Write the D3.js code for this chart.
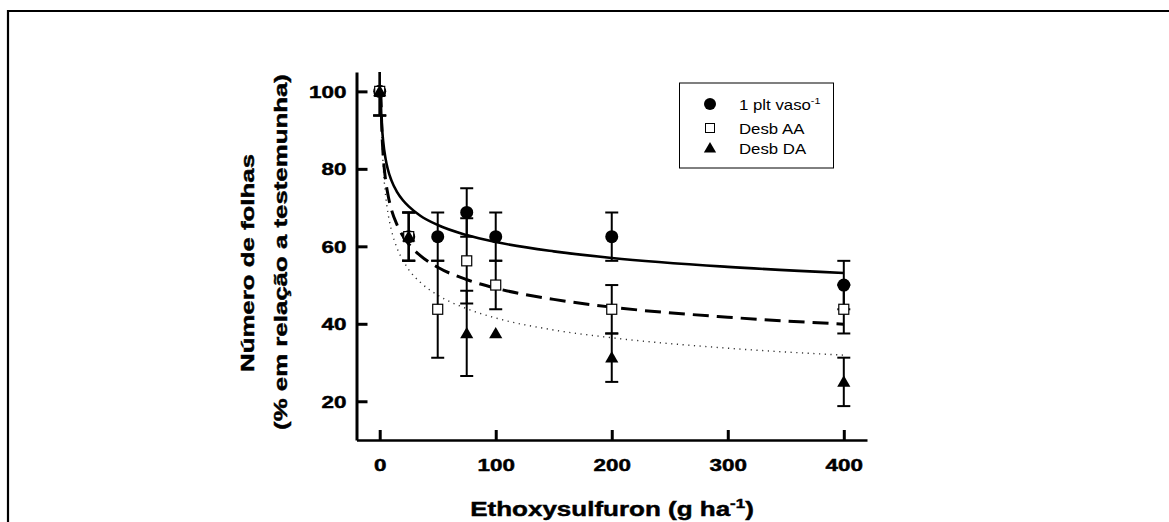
<!DOCTYPE html>
<html><head><meta charset="utf-8">
<script src="https://cdn.jsdelivr.net/npm/d3@7"></script>
<style>
html,body{margin:0;padding:0;background:#fff;}
svg{display:block;font-family:"Liberation Sans",Arial,sans-serif;}
</style></head>
<body>
<svg id="chart" width="1169" height="522"></svg>
<script>
// ---- data ----
const doses = [0, 25, 50, 75, 100, 200, 400];
const pltValues = [100, 62.5, 62.5, 68.75, 62.5, 62.5, 50];
const pltErrors = [6.25, 6.25, 6.25, 6.25, 6.25, 6.25, 6.25];
const aaValues = [100, 62.5, 43.75, 56.25, 50, 43.75, 43.75];
const aaErrors = [6.25, 6.25, 12.5, 11, 6.25, 6.25, 6.25];
const daValues = [100, 62.5, null, 37.5, 37.5, 31.25, 25];
const daErrors = [6.25, 6.25, null, 11, 0, 6.25, 6.25];

const curveDoses = [0.8, 1, 2, 3, 5, 7, 10, 15, 20, 25, 35, 50, 75, 100, 150, 200, 300, 400];
const pltCurve = [100, 97.3, 90.7, 87.1, 82.7, 79.9, 77.1, 74.0, 71.9, 70.3, 67.9, 65.5, 62.9, 61.1, 58.7, 57.0, 54.7, 53.1];
const aaCurve = [100, 98.6, 88.8, 83.5, 77.3, 73.5, 69.6, 65.5, 62.7, 60.6, 57.6, 54.6, 51.4, 49.2, 46.3, 44.3, 41.7, 39.9];
const daCurve = [100, 99.6, 87.3, 80.8, 73.4, 68.8, 64.3, 59.5, 56.4, 54.0, 50.7, 47.4, 43.9, 41.5, 38.4, 36.4, 33.7, 31.9];

const xTicks = [0, 100, 200, 300, 400];
const yTicks = [20, 40, 60, 80, 100];
const seriesNames = ["1 plt vaso", "Desb AA", "Desb DA"];
const xTitle = "Ethoxysulfuron (g ha";
const yTitle1 = "Número de folhas";
const yTitle2 = "(% em relação a testemunha)";

// ---- drawing ----
const svg = d3.select("#chart");
const x = d3.scaleLinear().domain([-20, 420]).range([356.5, 867]);
const y = d3.scaleLinear().domain([10, 105]).range([440, 72]);

// outer frame
svg.append("path").attr("d", "M8,522 L8,11 L1169,11")
  .attr("fill", "none").attr("stroke", "#000").attr("stroke-width", 2.2);

svg.append("defs").append("clipPath").attr("id", "plotclip")
  .append("rect").attr("x", 356.5).attr("y", 72).attr("width", 510.5).attr("height", 368);

const SX = 1.32;
const BOLD_STROKE = 0.45;

// axes
const gx = svg.append("g").attr("transform", "translate(0,440)")
  .call(d3.axisBottom(x).tickValues(xTicks).tickSize(-10).tickSizeOuter(0).tickFormat(d3.format("d")));
gx.select(".domain").attr("stroke-width", 2.6);
gx.selectAll(".tick line").attr("stroke-width", 3);
gx.selectAll(".tick text").attr("y", 0).attr("dy", 0)
  .attr("transform", "translate(0,31) scale(" + SX + ",1)")
  .attr("font-size", 17).attr("font-weight", "bold").attr("fill", "#000")
  .attr("stroke", "#000").attr("stroke-width", BOLD_STROKE)
  .attr("font-family", "Liberation Sans, Arial, sans-serif");

const gy = svg.append("g").attr("transform", "translate(356.5,0)")
  .call(d3.axisLeft(y).tickValues(yTicks).tickSize(-11).tickSizeOuter(0).tickFormat(d3.format("d")));
gy.select(".domain").attr("stroke-width", 3);
gy.selectAll(".tick line").attr("stroke-width", 3);
gy.selectAll(".tick text").attr("x", 0).attr("dy", "0.36em")
  .attr("transform", "translate(-10,0) scale(" + SX + ",1)")
  .attr("font-size", 17).attr("font-weight", "bold").attr("fill", "#000")
  .attr("stroke", "#000").attr("stroke-width", BOLD_STROKE)
  .attr("font-family", "Liberation Sans, Arial, sans-serif");

// axis titles
const xt = svg.append("text")
  .attr("transform", "translate(612,516) scale(1.3,1)")
  .attr("text-anchor", "middle").attr("font-size", 20).attr("font-weight", "bold")
  .attr("stroke", "#000").attr("stroke-width", BOLD_STROKE);
xt.append("tspan").text(xTitle);
xt.append("tspan").attr("font-size", 13).attr("dy", -8).text("-1");
xt.append("tspan").attr("dy", 8).text(")");

svg.append("text")
  .attr("transform", "translate(253.5,263) rotate(-90) scale(1.36,1)")
  .attr("text-anchor", "middle").attr("font-size", 19).attr("font-weight", "bold")
  .attr("stroke", "#000").attr("stroke-width", BOLD_STROKE)
  .text(yTitle1);
svg.append("text")
  .attr("transform", "translate(287,252) rotate(-90) scale(1.36,1)")
  .attr("text-anchor", "middle").attr("font-size", 19).attr("font-weight", "bold")
  .attr("stroke", "#000").attr("stroke-width", BOLD_STROKE)
  .text(yTitle2);

// curves
const plot = svg.append("g").attr("clip-path", "url(#plotclip)");
const line = d3.line().x((d) => x(d[0])).y((d) => y(d[1])).curve(d3.curveMonotoneX);
function curvePts(vals) { return curveDoses.map((d, i) => [d, vals[i]]); }

plot.append("path").datum(curvePts(daCurve)).attr("d", line)
  .attr("fill", "none").attr("stroke", "#333").attr("stroke-width", 1.4).attr("stroke-dasharray", "1.2,4.5");
plot.append("path").datum(curvePts(aaCurve)).attr("d", line)
  .attr("fill", "none").attr("stroke", "#000").attr("stroke-width", 3).attr("stroke-dasharray", "16,8");
plot.append("path").datum(curvePts(pltCurve)).attr("d", line)
  .attr("fill", "none").attr("stroke", "#000").attr("stroke-width", 2.6);

// error bars
function errBars(vals, errs) {
  const pts = doses.map((d, i) => ({ d, v: vals[i], e: errs[i] })).filter((p) => p.v != null && p.e);
  const g = plot.append("g").attr("stroke", "#000").attr("stroke-width", 2).attr("fill", "none");
  pts.forEach((p) => {
    const cx = x(p.d), y1 = y(p.v + p.e), y2 = y(p.v - p.e);
    g.append("line").attr("x1", cx).attr("x2", cx).attr("y1", y1).attr("y2", y2);
    g.append("line").attr("x1", cx - 6.5).attr("x2", cx + 6.5).attr("y1", y1).attr("y2", y1);
    g.append("line").attr("x1", cx - 6.5).attr("x2", cx + 6.5).attr("y1", y2).attr("y2", y2);
  });
}
errBars(pltValues, pltErrors);
errBars(aaValues, aaErrors);
errBars(daValues, daErrors);

const circleSym = d3.symbol().type(d3.symbolCircle).size(Math.PI * 6.5 * 6.5);
const triSym = d3.symbol().type(d3.symbolTriangle).size(75);

function pts(vals) { return doses.map((d, i) => ({ d, v: vals[i] })).filter((p) => p.v != null); }

svg.append("g").selectAll("path").data(pts(pltValues)).join("path")
  .attr("d", circleSym).attr("transform", (p) => `translate(${x(p.d)},${y(p.v)})`).attr("fill", "#000");
svg.append("g").selectAll("rect").data(pts(aaValues)).join("rect")
  .attr("x", (p) => x(p.d) - 5).attr("y", (p) => y(p.v) - 5).attr("width", 10).attr("height", 10)
  .attr("fill", "#fff").attr("stroke", "#000").attr("stroke-width", 1.2);
svg.append("g").selectAll("path").data(pts(daValues)).join("path")
  .attr("d", triSym).attr("transform", (p) => `translate(${x(p.d)},${y(p.v) + 1})`).attr("fill", "#000");

// legend
const lg = svg.append("g");
lg.append("rect").attr("x", 679.5).attr("y", 83).attr("width", 154).attr("height", 85)
  .attr("fill", "#fff").attr("stroke", "#000").attr("stroke-width", 1);
const rows = [104, 128, 148];
lg.append("path").attr("d", d3.symbol().type(d3.symbolCircle).size(Math.PI * 36))
  .attr("transform", `translate(710,${rows[0]})`).attr("fill", "#000");
lg.append("rect").attr("x", 705.5).attr("y", rows[1] - 4.5).attr("width", 9).attr("height", 9)
  .attr("fill", "#fff").attr("stroke", "#000").attr("stroke-width", 1);
lg.append("path").attr("d", d3.symbol().type(d3.symbolTriangle).size(65))
  .attr("transform", `translate(710,${rows[2] + 1})`).attr("fill", "#000");

const t0 = lg.append("text").attr("transform", `translate(739,${rows[0] + 6}) scale(1.2,1)`).attr("font-size", 14);
t0.append("tspan").text(seriesNames[0]);
t0.append("tspan").attr("font-size", 9).attr("dy", -6).text("-1");
lg.append("text").attr("transform", `translate(739,${rows[1] + 5.5}) scale(1.2,1)`).attr("font-size", 14).text(seriesNames[1]);
lg.append("text").attr("transform", `translate(739,${rows[2] + 5.5}) scale(1.2,1)`).attr("font-size", 14).text(seriesNames[2]);
</script>
</body></html>
